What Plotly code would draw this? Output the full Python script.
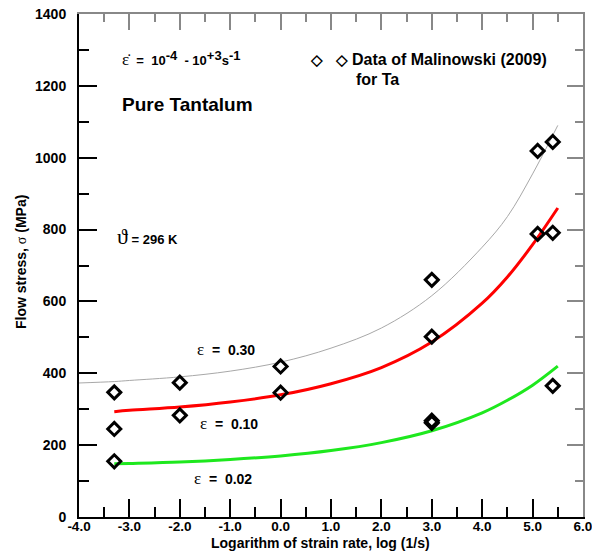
import plotly.graph_objects as go

# ---- data ----
data_x = [-3.3, -3.3, -3.3, -2.0, -2.0, 0.0, 0.0, 3.0, 3.0, 3.0, 3.0, 5.1, 5.1, 5.4, 5.4, 5.4]
data_y = [347, 245, 155, 374, 283, 419, 346, 660, 502, 262, 268, 1019, 788, 1044, 791, 365]

fit_x_030 = [-4.0, -3.3, -3.0, -2.0, -1.0, 0.0, 1.0, 2.0, 3.0, 4.0, 4.5, 5.0, 5.5]
fit_y_030 = [373, 377, 380, 390, 406, 431, 470, 526, 616, 751, 836, 955, 1090]

fit_x_010 = [-3.3, -3.0, -2.0, -1.0, 0.0, 1.0, 2.0, 3.0, 4.0, 4.5, 5.0, 5.5]
fit_y_010 = [293, 297, 306, 320, 340, 371, 416, 487, 595, 668, 758, 860]

fit_x_002 = [-3.3, -3.0, -2.0, -1.0, 0.0, 1.0, 2.0, 3.0, 4.0, 4.5, 5.0, 5.5]
fit_y_002 = [148, 149, 153, 160, 170, 185, 207, 240, 290, 325, 367, 420]

x_ticks = [-4.0, -3.0, -2.0, -1.0, 0.0, 1.0, 2.0, 3.0, 4.0, 5.0, 6.0]
x_tick_text = ["-4.0", "-3.0", "-2.0", "-1.0", "0.0", "1.0", "2.0", "3.0", "4.0", "5.0", "6.0"]
y_ticks = [0, 200, 400, 600, 800, 1000, 1200, 1400]

FONT = "Liberation Sans, Arial, sans-serif"

fig = go.Figure()
fig.add_trace(go.Scatter(x=fit_x_030, y=fit_y_030, mode="lines", line=dict(color="#a8a8a8", width=1, shape="spline"), showlegend=False))
fig.add_trace(go.Scatter(x=fit_x_010, y=fit_y_010, mode="lines", line=dict(color="#ff0000", width=3, shape="spline"), showlegend=False))
fig.add_trace(go.Scatter(x=fit_x_002, y=fit_y_002, mode="lines", line=dict(color="#1ee81e", width=3, shape="spline"), showlegend=False))
fig.add_trace(go.Scatter(x=data_x, y=data_y, mode="markers",
                         marker=dict(symbol="diamond-open", size=10, color="black", line=dict(color="black", width=3)),
                         showlegend=False))
# invisible trace to activate top/right axes
fig.add_trace(go.Scatter(x=[x_ticks[0]], y=[y_ticks[0]], xaxis="x2", yaxis="y2", mode="markers",
                         marker=dict(opacity=0), showlegend=False, hoverinfo="skip"))

fig.update_layout(
    width=592, height=558,
    margin=dict(l=79, r=9, t=14, b=41, autoexpand=False),
    paper_bgcolor="white", plot_bgcolor="white",
    font=dict(family=FONT, size=13, color="black"),
    xaxis=dict(range=[-4, 6], tickvals=x_ticks, ticktext=["<b>%s</b>" % t for t in x_tick_text], ticks="inside", ticklen=18, tickwidth=1.5,
               tickcolor="black", showline=True, linecolor="black", linewidth=2, showgrid=False, zeroline=False,
               tickfont=dict(family=FONT, size=13.5), automargin=False, ticklabelstandoff=-4, ticklabeloverflow="allow",
               minor=dict(ticks="inside", ticklen=10, dtick=0.5, tickcolor="black", tickwidth=1.5, showgrid=False)),
    yaxis=dict(range=[0, 1400], tickvals=y_ticks, ticktext=["<b>%d</b>" % v for v in y_ticks], ticks="inside", ticklen=18, tickwidth=1.5,
               tickcolor="black", showline=True, linecolor="black", linewidth=2, showgrid=False, zeroline=False,
               tickfont=dict(family=FONT, size=14), automargin=False, ticklabelstandoff=8, ticklabeloverflow="allow",
               minor=dict(ticks="inside", ticklen=10, dtick=100, tickcolor="black", tickwidth=1.5, showgrid=False)),
    xaxis2=dict(range=[-4, 6], overlaying="x", side="top", tickvals=x_ticks, showticklabels=False, ticks="inside",
                ticklen=16, tickwidth=1.5, tickcolor="#888888", showline=True, linecolor="#888888", linewidth=2,
                showgrid=False, zeroline=False, automargin=False,
                minor=dict(ticks="inside", ticklen=8, dtick=0.5, tickcolor="#888888", tickwidth=1.5, showgrid=False)),
    yaxis2=dict(range=[0, 1400], overlaying="y", side="right", tickvals=y_ticks, showticklabels=False, ticks="inside",
                ticklen=16, tickwidth=1.5, tickcolor="#888888", showline=True, linecolor="#888888", linewidth=2,
                showgrid=False, zeroline=False, automargin=False,
                minor=dict(ticks="inside", ticklen=8, dtick=100, tickcolor="#888888", tickwidth=1.5, showgrid=False)),
)

# axis titles
fig.add_annotation(x=0.480, y=-0.052, xref="paper", yref="paper", showarrow=False, xanchor="center", yanchor="middle",
                   text="<b>Logarithm of strain rate, log (1/s)</b>", font=dict(family=FONT, size=14))
fig.add_annotation(x=-0.115, y=0.507, xref="paper", yref="paper", showarrow=False, xanchor="center", yanchor="middle",
                   textangle=-90,
                   text="<b>Flow stress, </b><span style='font-family:Liberation Serif'>σ</span><b> (MPa)</b>",
                   font=dict(family=FONT, size=14))

def ann(x, y, text, size=13):
    fig.add_annotation(x=x, y=y, xref="x", yref="y", text=text, showarrow=False, xanchor="left", yanchor="middle",
                       font=dict(family=FONT, size=size, color="black"))

def sup(t):
    return "<sup><span style='font-size:13px'>%s</span></sup>" % t

eps = "<span style='font-family:Liberation Serif;font-size:17px'>ε</span>"
ann(-3.18, 1277, "<span style='font-family:Liberation Serif;font-size:17px'>ε̇</span><b>  =  10" + sup("-4") + "  - 10" + sup("+3") + "s" + sup("-1") + "</b>", 13)
ann(-3.18, 1149, "<b>Pure Tantalum</b>", 19)
ann(-3.28, 781, "<span style='font-family:Liberation Serif;font-size:22px'>ϑ</span><b> = 296 K</b>", 13)
ann(-1.69, 465, eps + "<b>  =  0.30</b>", 14)
ann(-1.63, 259, eps + "<b>  =  0.10</b>", 14)
ann(-1.75, 106, eps + "<b>  =  0.02</b>", 14)
ann(0.55, 1272, "<b>◇   ◇</b>", 15)
ann(1.37, 1272, "<b>Data of Malinowski (2009)</b>", 16)
ann(1.45, 1219, "<b>for Ta</b>", 16)

fig.write_html("out.html", config={"displayModeBar": False}, post_script="document.body.style.margin='0';")
